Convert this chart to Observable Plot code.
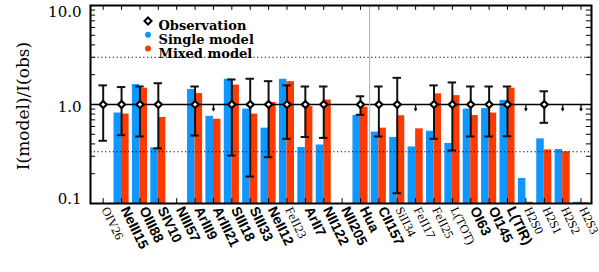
<!DOCTYPE html>
<html><head><meta charset="utf-8">
<script src="https://cdn.jsdelivr.net/npm/d3@7"></script>
<script src="https://cdn.jsdelivr.net/npm/@observablehq/plot@0.6"></script>
<style>body{margin:0;background:#fff;} svg{overflow:visible}</style>
</head><body><div id="chart"></div>
<script>
const lines = ["OIV26","NeIII15","OIII88","SIV10","NIII57","ArIII9","ArIII21","SIII18","SIII33","NeII12","FeII23","ArII7","NII122","NII205","Hua","CII157","SiII34","FeII17","FeII25","L(TOT)","OI63","OI145","L(TIR)","H2S0","H2S1","H2S2","H2S3"];
const boldLines = ["NeIII15","OIII88","SIV10","NIII57","ArIII9","ArIII21","SIII18","SIII33","NeII12","ArII7","NII122","NII205","Hua","CII157","OI63","OI145","L(TIR)"];
const singleModel = [null,0.82,1.59,0.365,null,1.42,0.76,1.80,0.90,0.577,1.80,0.368,0.39,null,0.774,0.526,0.465,0.373,0.537,0.404,0.90,0.91,1.10,0.179,0.45,0.351,0.103];
const mixedModel  = [null,0.80,1.46,0.74,null,1.29,0.71,1.57,0.80,1.05,1.70,0.955,1.11,null,0.94,0.577,0.77,0.568,1.28,1.23,0.774,0.82,1.46,0.103,0.348,0.333,0.102];
const obsValue = [1,1,1,1,null,1,null,1,1,1,1,1,1,null,1,1,1,null,1,1,1,1,1,null,1,null,null];
const obsHigh  = [1.56,1.50,1.52,1.64,null,1.52,null,1.79,1.82,1.72,1.56,1.52,1.52,null,1.21,1.52,1.86,null,1.56,1.67,1.52,1.52,1.52,null,1.36,null,null];
const obsLow   = [0.43,0.49,0.475,0.36,null,0.486,null,0.305,0.187,0.294,0.45,0.47,0.46,null,0.787,0.475,0.127,null,0.45,0.343,0.475,0.475,0.478,null,0.653,null,null];
const upperLimits = ["ArIII21","FeII17","H2S0","H2S2","H2S3"];
const yTicks = [10, 1, 0.1];
const yTickLabels = ["10.0", "1.0", "0.1"];
const yMinorTicks = [0.2,0.3,0.4,0.5,0.6,0.7,0.8,0.9,2,3,4,5,6,7,8,9];
const refLines = [3, 1/3];
const legendLabels = ["Observation", "Single model", "Mixed model"];

const BLUE = "#0f96ff", RED = "#ff3a00";
const rows = lines.map((name, i) => ({
  i, name, single: singleModel[i], mixed: mixedModel[i], obs: obsValue[i],
  hi: obsHigh[i], lo: obsLow[i], limit: upperLimits.includes(name), bold: boldLines.includes(name)
}));
const det = rows.filter(d => d.obs != null);
const lim = rows.filter(d => d.limit);
const X0 = -0.69, X1 = 26.57;
const BW = 0.41, CAP = 0.23, TK = 0.28;

const yLabelShift = [7, 3, -4];
const legendDy = [15.5, 29.3, 43.1];

const chart = Plot.plot({
  width: 599, height: 272,
  marginLeft: 90, marginRight: 8, marginTop: 5, marginBottom: 69,
  x: {type: "linear", domain: [X0, X1], axis: null},
  y: {type: "log", domain: [0.1, 10], axis: null},
  marks: [
    Plot.rect(rows.filter(d => d.single != null), {x1: d => d.i - BW, x2: d => d.i, y1: 0.1, y2: "single", fill: BLUE}),
    Plot.rect(rows.filter(d => d.mixed != null), {x1: d => d.i, x2: d => d.i + BW, y1: 0.1, y2: "mixed", fill: RED}),
    Plot.ruleY(refLines, {stroke: "black", strokeWidth: 1.2, strokeDasharray: "1.2,2.6"}),
    Plot.ruleY([1], {stroke: "black", strokeWidth: 1.6}),
    Plot.ruleX([14.5], {stroke: "#aaa", strokeWidth: 1}),
    Plot.ruleX(det, {x: "i", y1: "lo", y2: "hi", stroke: "#111", strokeWidth: 2}),
    Plot.ruleY(det, {y: "hi", x1: d => d.i - CAP, x2: d => d.i + CAP, stroke: "#111", strokeWidth: 2}),
    Plot.ruleY(det, {y: "lo", x1: d => d.i - CAP, x2: d => d.i + CAP, stroke: "#111", strokeWidth: 2}),
    Plot.dot(det, {x: "i", y: "obs", symbol: "diamond2", r: 3.2, stroke: "black", strokeWidth: 2.2, fill: "white"}),
    Plot.arrow(lim, {x1: "i", x2: "i", y1: 1, y2: 0.87, headLength: 4, strokeWidth: 1.4, stroke: "#111"}),
    // axis ticks
    Plot.ruleY(yMinorTicks, {y: d => d, x1: X0, x2: X0 + TK, stroke: "black", strokeWidth: 1}),
    Plot.ruleY(yMinorTicks, {y: d => d, x1: X1 - TK, x2: X1, stroke: "black", strokeWidth: 1}),
    Plot.ruleY(yTicks, {y: d => d, x1: X0, x2: X0 + TK * 1.5, stroke: "black", strokeWidth: 1}),
    Plot.ruleY(yTicks, {y: d => d, x1: X1 - TK * 1.5, x2: X1, stroke: "black", strokeWidth: 1}),
    Plot.ruleX(rows, {x: "i", y1: 10 / 1.12, y2: 10, stroke: "black", strokeWidth: 1}),
    Plot.ruleX(rows, {x: "i", y1: 0.1, y2: 0.1 * 1.12, stroke: "black", strokeWidth: 1}),
    Plot.frame({stroke: "black", strokeWidth: 2}),
    // y tick labels
    ...yTicks.map((t, k) => Plot.text([t], {y: d => d, text: () => yTickLabels[k], frameAnchor: "left", dx: -9, dy: yLabelShift[k], textAnchor: "end", fontFamily: "DejaVu Serif", fontSize: 15, fill: "black"})),
    // x labels
    Plot.text(rows.filter(d => !d.bold), {x: "i", text: "name", frameAnchor: "bottom", dx: -2, dy: 6, rotate: 64, textAnchor: "start", fontFamily: "Liberation Serif", fontSize: 12.5, fill: "black"}),
    Plot.text(rows.filter(d => d.bold), {x: "i", text: "name", frameAnchor: "bottom", dx: -1, dy: 6, rotate: 64, textAnchor: "start", fontFamily: "Liberation Sans", fontWeight: "bold", fontSize: 14, fill: "black"}),
    // legend
    Plot.dot([0], {frameAnchor: "top-left", dx: 57.5, dy: legendDy[0], symbol: "diamond2", r: 3.2, stroke: "black", strokeWidth: 2, fill: "white"}),
    Plot.dot([0], {frameAnchor: "top-left", dx: 57.5, dy: legendDy[1], r: 3, fill: BLUE}),
    Plot.dot([0], {frameAnchor: "top-left", dx: 57.5, dy: legendDy[2], r: 3, fill: RED}),
    ...legendLabels.map((t, k) => Plot.text([t], {frameAnchor: "top-left", dx: 68, dy: legendDy[k], text: d => d, textAnchor: "start", fontFamily: "DejaVu Serif", fontWeight: "bold", fontSize: 13, fill: "black"}))
  ]
});
const svg = chart;
// y axis title
const t = document.createElementNS("http://www.w3.org/2000/svg", "text");
t.setAttribute("transform", "translate(24,106) rotate(-90)");
t.setAttribute("text-anchor", "middle");
t.setAttribute("dominant-baseline", "middle");
t.setAttribute("font-family", "DejaVu Serif");
t.setAttribute("font-size", "17");
t.textContent = "I(model)/I(obs)";
svg.appendChild(t);
document.getElementById("chart").appendChild(svg);
</script>
</body></html>
